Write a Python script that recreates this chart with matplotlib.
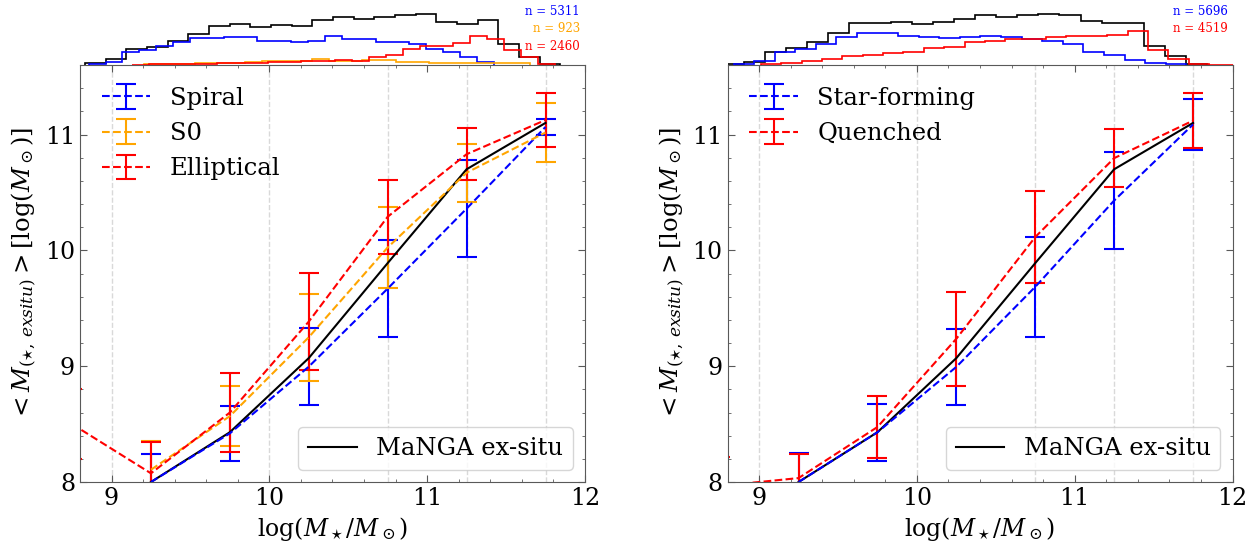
import numpy as np
import matplotlib
matplotlib.use("Agg")
import matplotlib.pyplot as plt
from matplotlib.ticker import MultipleLocator

plt.rcParams['font.family'] = 'serif'
plt.rcParams['font.serif'] = ['DejaVu Serif']
plt.rcParams['mathtext.fontset'] = 'dejavuserif'

# mass bin centres
mass_bins = [9.25, 9.75, 10.25, 10.75, 11.25, 11.75]

# MaNGA ex-situ reference line
manga_exsitu = [8.00, 8.43, 9.07, 9.89, 10.70, 11.10]

# morphology (left panel)
spiral_mean = [8.00, 8.42, 8.996, 9.67, 10.36, 11.065]
spiral_err = [0.244, 0.24, 0.332, 0.422, 0.42, 0.065]
s0_mean = [8.106, 8.569, 9.25, 10.025, 10.67, 11.017]
s0_err = [0.245, 0.262, 0.376, 0.347, 0.25, 0.254]
ell_mass = [8.75, 9.25, 9.75, 10.25, 10.75, 11.25, 11.75]
ell_mean = [8.50, 8.075, 8.60, 9.385, 10.29, 10.83, 11.125]
ell_err = [0.30, 0.27, 0.338, 0.422, 0.318, 0.226, 0.232]

# star formation state (right panel)
sf_mean = [8.00, 8.43, 8.994, 9.685, 10.43, 11.087]
sf_err = [0.253, 0.245, 0.328, 0.429, 0.42, 0.222]
q_mass = [8.75, 9.25, 9.75, 10.25, 10.75, 11.25, 11.75]
q_mean = [7.966, 8.034, 8.475, 9.237, 10.115, 10.796, 11.12]
q_err = [0.25, 0.21, 0.268, 0.407, 0.399, 0.253, 0.238]

# stellar mass histograms (counts per bin)
hl_black_edges = np.linspace(8.831, 11.845, 24)
hl_black = [20, 69, 181, 207, 276, 357, 449, 472, 437, 460, 449, 518, 549, 526,
            549, 575, 587, 491, 472, 518, 242, 95, 8]
hl_spiral_edges = np.linspace(8.855, 11.423, 25)
hl_spiral = [12, 38, 150, 173, 219, 268, 307, 314, 325, 325, 276, 279, 261, 273,
             334, 296, 296, 268, 268, 238, 181, 153, 89, 38]
hl_s0_edges = np.linspace(9.209, 11.651, 24)
hl_s0 = [8, 8, 12, 20, 20, 26, 38, 46, 46, 46, 66, 46, 46, 58, 58, 38, 38, 26,
         26, 26, 26, 20, 20]
hl_ell_edges = np.linspace(9.132, 11.809, 26)
hl_ell = [3, 6, 8, 12, 15, 20, 23, 26, 31, 38, 43, 46, 58, 49, 95, 115, 181, 222,
          222, 250, 337, 296, 173, 89, 8]

hr_black_edges = np.linspace(8.772, 11.836, 24)
hr_black = [9, 39, 173, 225, 303, 420, 542, 550, 563, 533, 555, 594, 650, 628,
            650, 663, 650, 576, 550, 550, 251, 117, 9]
hr_sf_edges = np.linspace(8.838, 11.707, 23)
hr_sf = [17, 52, 169, 208, 273, 364, 420, 412, 381, 368, 347, 360, 381, 368,
         334, 316, 269, 173, 130, 65, 22, 9]
hr_q_edges = np.linspace(9.011, 12.109, 25)
hr_q = [13, 30, 52, 74, 117, 130, 152, 165, 217, 238, 295, 312, 338, 338, 364,
        377, 377, 384, 442, 195, 74, 9, 6, 4]

n_left = [('n = 5311', 'blue'), ('n = 923', 'orange'), ('n = 2460', 'red')]
n_right = [('n = 5696', 'blue'), ('n = 4519', 'red')]

guide_x = [9, 10, 10.75, 11.25, 11.75]

fig = plt.figure(figsize=(12.55, 5.49), dpi=100)

ax_l = fig.add_axes([0.0637, 0.122, 0.4024, 0.7596])
ax_r = fig.add_axes([0.5797, 0.122, 0.4024, 0.7596])
hx_l = fig.add_axes([0.0637, 0.8816, 0.4024, 0.1184])
hx_r = fig.add_axes([0.5797, 0.8816, 0.4024, 0.1184])

ebkw = dict(ls='--', lw=1.5, capsize=7, elinewidth=1.5, capthick=1.5)

for ax in (ax_l, ax_r):
    for gx in guide_x:
        ax.axvline(gx, color='0.85', ls='--', lw=1, zorder=0)

# left panel
ax_l.errorbar(mass_bins, spiral_mean, yerr=spiral_err, color='blue', label='Spiral', **ebkw)
ax_l.errorbar(mass_bins, s0_mean, yerr=s0_err, color='orange', label='S0', **ebkw)
ax_l.errorbar(ell_mass, ell_mean, yerr=ell_err, color='red', label='Elliptical', **ebkw)
leg1 = ax_l.legend(loc='upper left', frameon=False, fontsize=17.5)
ln, = ax_l.plot(mass_bins, manga_exsitu, color='black', lw=1.5)
ax_l.add_artist(leg1)
ax_l.legend([ln], ['MaNGA ex-situ'], loc='lower right', fontsize=17.5)

# right panel
ax_r.errorbar(mass_bins, sf_mean, yerr=sf_err, color='blue', label='Star-forming', **ebkw)
ax_r.errorbar(q_mass, q_mean, yerr=q_err, color='red', label='Quenched', **ebkw)
leg2 = ax_r.legend(loc='upper left', frameon=False, fontsize=17.5)
ln, = ax_r.plot(mass_bins, manga_exsitu, color='black', lw=1.5)
ax_r.add_artist(leg2)
ax_r.legend([ln], ['MaNGA ex-situ'], loc='lower right', fontsize=17.5)

for ax in (ax_l, ax_r):
    ax.set_xlim(8.8, 12)
    ax.set_ylim(8, 11.6)
    ax.xaxis.set_major_locator(MultipleLocator(1))
    ax.yaxis.set_major_locator(MultipleLocator(1))
    ax.xaxis.set_minor_locator(MultipleLocator(0.2))
    ax.yaxis.set_minor_locator(MultipleLocator(0.2))
    ax.tick_params(which='both', direction='in', top=True, right=True,
                   color='0.35', labelsize=17)
    ax.tick_params(which='major', length=5)
    ax.tick_params(which='minor', length=2.5)
    for sp in ax.spines.values():
        sp.set_color('0.35')
    ax.set_xlabel(r'$\log(M_\star/M_\odot)$', fontsize=17)
    ax.set_ylabel(r'$<M_{(\star,\,exsitu)}>[\log(M_\odot)]$', fontsize=17.5)

# histograms on top
hx_l.stairs(hl_black, hl_black_edges, color='black', lw=1.2)
hx_l.stairs(hl_spiral, hl_spiral_edges, color='blue', lw=1.2)
hx_l.stairs(hl_s0, hl_s0_edges, color='orange', lw=1.2)
hx_l.stairs(hl_ell, hl_ell_edges, color='red', lw=1.2)
hx_l.set_ylim(0, 748)

hx_r.stairs(hr_black, hr_black_edges, color='black', lw=1.2)
hx_r.stairs(hr_sf, hr_sf_edges, color='blue', lw=1.2)
hx_r.stairs(hr_q, hr_q_edges, color='red', lw=1.2)
hx_r.set_ylim(0, 845)

for hx, labels in ((hx_l, n_left), (hx_r, n_right)):
    hx.set_xlim(8.8, 12)
    hx.axis('off')
    for i, (txt, col) in enumerate(labels):
        hx.text(0.99, 0.83 - 0.27 * i, txt, color=col, fontsize=8.5,
                ha='right', va='center', transform=hx.transAxes)

fig.savefig('out.png', dpi=100)
